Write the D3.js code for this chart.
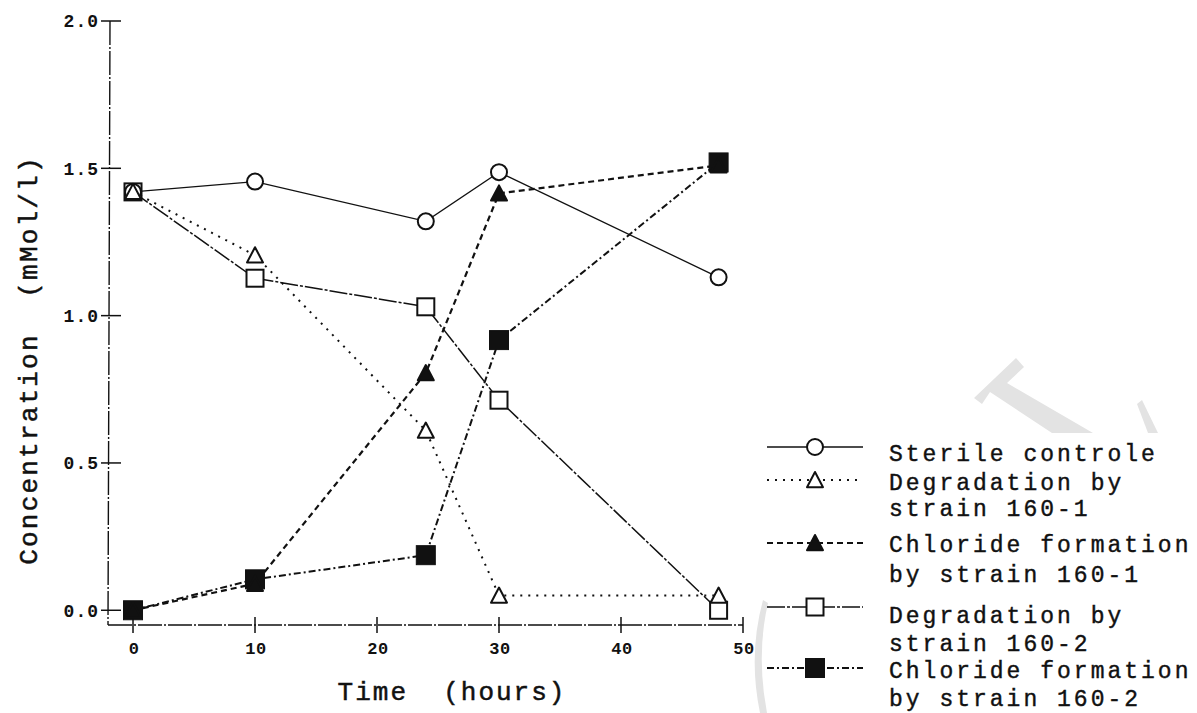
<!DOCTYPE html>
<html>
<head>
<meta charset="utf-8">
<script src="https://cdn.jsdelivr.net/npm/d3@7"></script>
<style>
  html, body { margin: 0; padding: 0; background: #fff; }
  svg { display: block; }
  text { font-family: "Liberation Mono", "DejaVu Sans Mono", monospace; fill: #111; }
</style>
</head>
<body>
<svg id="chart" width="1197" height="713"></svg>
<script>
// Sampling times (hours)
const hours = [0, 10, 24, 30, 48];

// Concentrations (mMol/l)
const sterileControl   = [1.42, 1.455, 1.32, 1.487, 1.13];
const degradation1601  = [1.42, 1.205, 0.61, 0.05, 0.05];
const chloride1601     = [0.0, 0.09, 0.805, 1.415, 1.51];
const degradation1602  = [1.42, 1.127, 1.03, 0.713, 0.0];
const chloride1602     = [0.0, 0.105, 0.187, 0.917, 1.52];

// Axis ticks
const xTicks = [0, 10, 20, 30, 40, 50];
const yTicks = [0.0, 0.5, 1.0, 1.5, 2.0];

// Legend entries
const seriesNames = [
  ["Sterile controle"],
  ["Degradation by", "strain 160-1"],
  ["Chloride formation", "by strain 160-1"],
  ["Degradation by", "strain 160-2"],
  ["Chloride formation", "by strain 160-2"]
];

const series = [
  { values: sterileControl,  marker: "circle",   filled: false, dash: null,         width: 1.3 },
  { values: degradation1601, marker: "triangle", filled: false, dash: "2,6",        width: 2.0 },
  { values: chloride1601,    marker: "triangle", filled: true,  dash: "6,4",        width: 2.2 },
  { values: degradation1602, marker: "square",   filled: false, dash: "18,2,3,2",   width: 1.5 },
  { values: chloride1602,    marker: "square",   filled: true,  dash: "7,3,2,3",    width: 2.0 }
];

const svg = d3.select("#chart");

// Faint grey mark printed behind the page content
const bg = svg.append("g").attr("fill", "#e3e3e3").attr("stroke", "none");
bg.append("path").attr("d", "M974,398 L1016,358 L1024,367 L1007,383 L1093,433 L1052,433 L990,392 L982,404 Z");
bg.append("path").attr("d", "M1137,404 L1142,400 L1158,433 L1148,433 Z");
bg.append("path").attr("d", "M763,600 Q748,655 760,713 L767,713 Q756,655 768,603 Z");

const x = d3.scaleLinear().domain([-2.05, 50]).range([108, 743]);
const y = d3.scaleLinear().domain([-0.05, 2.0]).range([625, 21]);

// Axes: ticks cross the axis line on both sides
const axisG = svg.append("g").attr("stroke", "#111").attr("fill", "none");
axisG.append("line")
  .attr("x1", x(-2.05) + 2).attr("x2", x(-2.05))
  .attr("y1", y(2.0)).attr("y2", y(-0.05))
  .attr("stroke-width", 1.4).attr("stroke-dasharray", "24,2,2,2");
axisG.append("line")
  .attr("x1", x(-2.05)).attr("x2", x(50))
  .attr("y1", y(-0.05)).attr("y2", y(-0.05))
  .attr("stroke-width", 1.4).attr("stroke-dasharray", "24,2,2,2");

axisG.selectAll(".yt").data(yTicks).join("line")
  .attr("x1", x(-2.05) - 7).attr("x2", x(-2.05) + 13)
  .attr("y1", d => y(d)).attr("y2", d => y(d))
  .attr("stroke-width", 1.5);
axisG.selectAll(".xt").data(xTicks).join("line")
  .attr("x1", d => x(d)).attr("x2", d => x(d))
  .attr("y1", y(-0.05) - 8).attr("y2", y(-0.05) + 8)
  .attr("stroke-width", 1.5);

svg.selectAll(".ylab").data(yTicks).join("text")
  .attr("x", x(-2.05) - 9).attr("y", d => y(d))
  .attr("dy", "0.36em").attr("text-anchor", "end")
  .attr("font-size", 18).attr("font-weight", "bold")
  .style("letter-spacing", "1px")
  .text(d => d.toFixed(1));

svg.selectAll(".xlab").data(xTicks).join("text")
  .attr("x", d => x(d) + 1).attr("y", 654)
  .attr("text-anchor", "middle")
  .attr("font-size", 17).attr("font-weight", "bold")
  .style("letter-spacing", "0.5px")
  .text(d => d);

// Axis titles
svg.append("text")
  .attr("x", 452).attr("y", 700)
  .attr("text-anchor", "middle")
  .attr("font-size", 26)
  .attr("stroke", "#111").attr("stroke-width", 0.5)
  .style("letter-spacing", "2px")
  .attr("xml:space", "preserve")
  .text("Time  (hours)");

svg.append("text")
  .attr("transform", "translate(37,360) rotate(-90)")
  .attr("text-anchor", "middle")
  .attr("font-size", 26)
  .attr("stroke", "#111").attr("stroke-width", 0.5)
  .style("letter-spacing", "2.2px")
  .attr("xml:space", "preserve")
  .text("Concentration  (mMol/l)");

// Marker drawing
function drawMarker(g, kind, filled, cx, cy) {
  const fill = filled ? "#111" : "#fff";
  if (kind === "circle") {
    g.append("circle").attr("cx", cx).attr("cy", cy).attr("r", 8)
      .attr("fill", fill).attr("stroke", "#111").attr("stroke-width", 2);
  } else if (kind === "square") {
    const s = filled ? 19 : 17;
    g.append("rect").attr("x", cx - s / 2).attr("y", cy - s / 2)
      .attr("width", s).attr("height", s)
      .attr("fill", fill).attr("stroke", "#111").attr("stroke-width", filled ? 1 : 2);
  } else {
    const h = 8;
    g.append("path")
      .attr("d", `M${cx},${cy - h}L${cx + h},${cy + h * 0.9}L${cx - h},${cy + h * 0.9}Z`)
      .attr("fill", fill).attr("stroke", "#111").attr("stroke-width", 2)
      .attr("stroke-linejoin", "round");
  }
}

const line = d3.line().x(d => x(d[0])).y(d => y(d[1]));

const linesG = svg.append("g").attr("fill", "none").attr("stroke", "#111");
series.forEach(s => {
  linesG.append("path")
    .datum(hours.map((h, i) => [h, s.values[i]]))
    .attr("d", line)
    .attr("stroke-width", s.width)
    .attr("stroke-dasharray", s.dash);
});

const markersG = svg.append("g");
// draw order: open squares underneath, then filled, then open circle/triangle on top
[3, 4, 2, 0, 1].forEach(k => {
  const s = series[k];
  hours.forEach((h, i) => drawMarker(markersG, s.marker, s.filled, x(h), y(s.values[i])));
});

// Legend
const legendRows = [447, 480, 543, 607, 668];
const textBaselines = [[461], [490, 516], [552, 582], [623, 651], [678, 706]];
const legG = svg.append("g");
series.forEach((s, k) => {
  legG.append("line")
    .attr("x1", 767).attr("x2", 863)
    .attr("y1", legendRows[k]).attr("y2", legendRows[k])
    .attr("stroke", "#111").attr("stroke-width", s.width)
    .attr("stroke-dasharray", s.dash);
  drawMarker(legG, s.marker, s.filled, 815, legendRows[k]);
  seriesNames[k].forEach((t, j) => {
    legG.append("text")
      .attr("x", 889).attr("y", textBaselines[k][j])
      .attr("font-size", 23)
      .attr("stroke", "#111").attr("stroke-width", 0.4)
      .style("letter-spacing", "3px")
      .text(t);
  });
});
</script>
</body>
</html>
